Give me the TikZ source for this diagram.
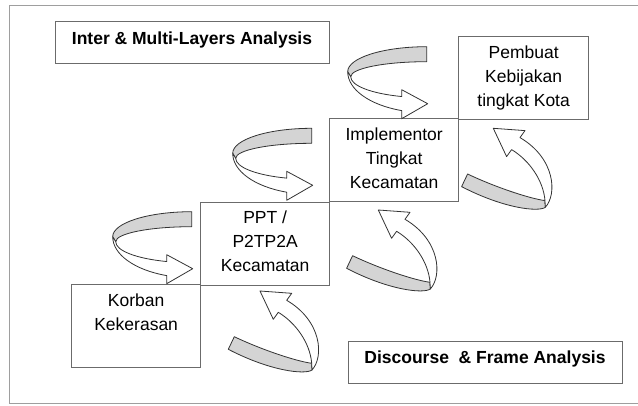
\documentclass[tikz,border=0pt]{standalone}
\usepackage{fontspec}
\setmainfont{Liberation Sans}
\usetikzlibrary{calc}
\definecolor{bandgray}{gray}{0.83}
\definecolor{boxline}{gray}{0.42}
\definecolor{frameline}{gray}{0.62}
\definecolor{arrline}{gray}{0.2}
\tikzset{
  stepbox/.style={draw=boxline, line width=1.3pt, minimum width=129pt, minimum height=83pt, inner sep=0pt, anchor=north west},
  titlebox/.style={draw=boxline, line width=1.3pt, minimum width=274pt, minimum height=42pt, inner sep=0pt, anchor=north west},
  boxtxt/.style={align=center, font=\fontsize{17.5}{24}\selectfont, inner sep=0pt, anchor=north, execute at begin node={\rule{0pt}{13pt}}},
  titletxt/.style={font=\bfseries\fontsize{17.5}{21}\selectfont, inner sep=0pt, anchor=base},
  ribbon/.style={draw=arrline, line width=0.8pt, line join=round},
  curvR/.pic={
    \filldraw[ribbon, fill=bandgray] (0,0) arc[start angle=270, end angle=180, x radius=79, y radius=25]
      -- (-76,30) arc[start angle=180, end angle=270, x radius=76, y radius=15] -- cycle;
    \filldraw[ribbon, fill=white] (-79,25) arc[start angle=180, end angle=108.45, x radius=79, y radius=41]
      -- (-25,72) -- (1,57) -- (-25,43) -- (-25,49.83)
      arc[start angle=109.2, end angle=180, x radius=76, y radius=21] -- cycle;
  },
  curvU/.pic={
    \filldraw[ribbon, fill=bandgray] (-25.7,45.7) .. controls (0,58) and (35,70) .. (51.7,72.3)
      -- (52,79) .. controls (45,84) and (10,80) .. (-31.7,58.3) -- cycle;
    \filldraw[ribbon, fill=white] (52,79) .. controls (64,66) and (62,30) .. (26.7,9.3)
      -- (31.7,2.3) -- (0,0) -- (13.3,28.3) -- (18.3,21.3)
      .. controls (36,32) and (50,52) .. (51.7,72.3) -- cycle;
  }
}
\begin{document}
\begin{tikzpicture}[x=1pt,y=-1pt]
\useasboundingbox (0,0) rectangle (638,405);
% outer frame
\draw[frameline, line width=1pt] (638,5) -- (9.5,5) -- (9.5,403.5) -- (638,403.5);

% title boxes
\node[titlebox] (inter) at (55,21) {};
\node[titletxt] (intertxt) at (192,44.5) {Inter \& Multi-Layers Analysis};
\node[titlebox] (disc) at (348,340.5) {};
\node[titletxt] (disctxt) at (485,363.5) {Discourse\ \ \& Frame Analysis};

% step boxes
\node[stepbox] (korban) at (71,284) {};
\node[stepbox] (ppt) at (200,202) {};
\node[stepbox] (impl) at (329,118) {};
\node[stepbox, minimum width=130pt] (pemb) at (458,36) {};

\node[boxtxt] (korbantxt) at ($(korban.north)+(0,9.5)$) {Korban\\Kekerasan};
\node[boxtxt] (ppttxt) at ($(ppt.north)+(0,9)$) {PPT /\\P2TP2A\\Kecamatan};
\node[boxtxt] (impltxt) at ($(impl.north)+(0,10)$) {Implementor\\Tingkat\\Kecamatan};
\node[boxtxt] (pembtxt) at ($(pemb.north)+(0,10)$) {Pembuat\\Kebijakan\\tingkat Kota};

% curved ribbon arrows (upper left of each step)
\pic at (191.7,211.7) {curvR};
\pic at (311.7,128.3) {curvR};
\pic at (426.7,46.7) {curvR};

% curved ribbon arrows (below each step)
\pic at (260,291) {curvU};
\pic at (378.3,210) {curvU};
\pic at (493.3,128.3) {curvU};
\end{tikzpicture}
\end{document}
